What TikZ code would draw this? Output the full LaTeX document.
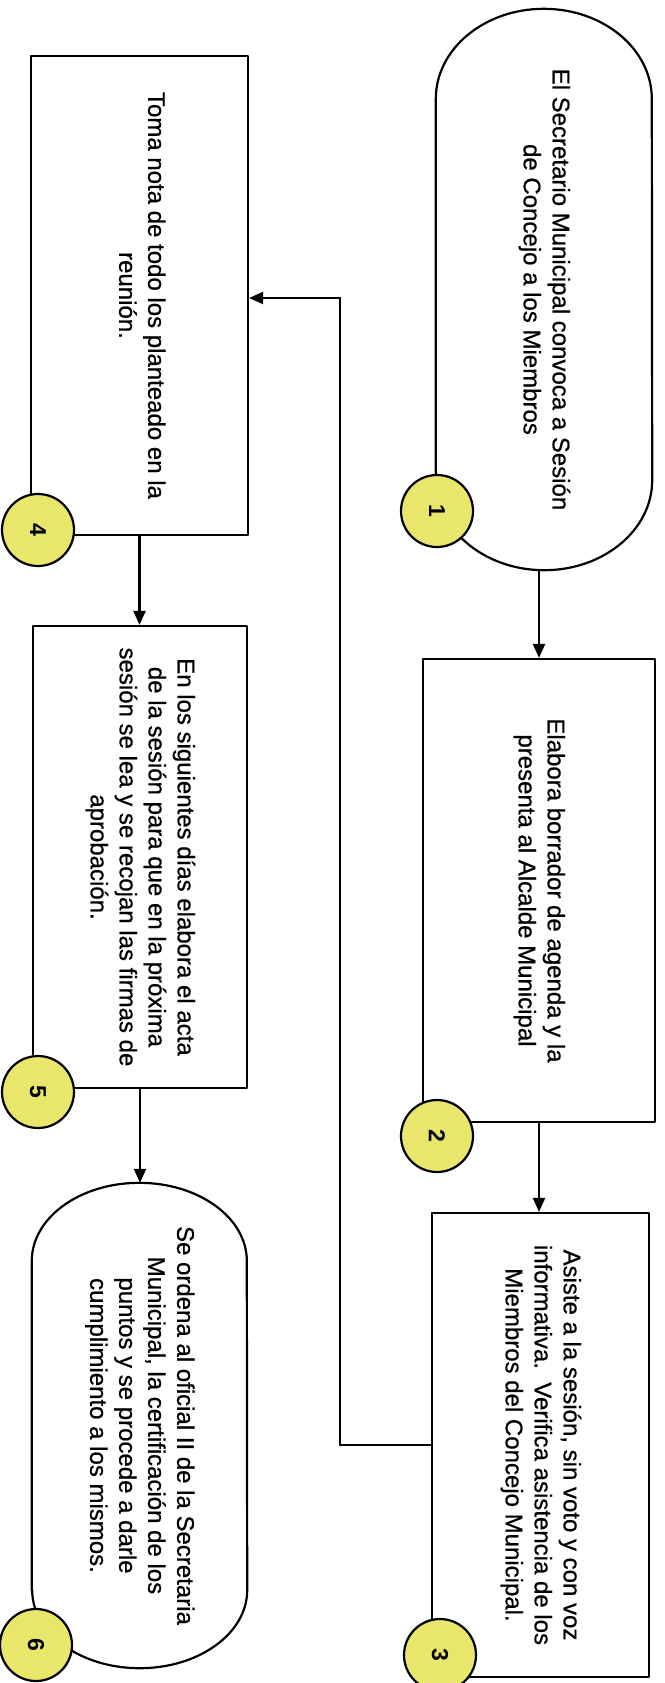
\documentclass[tikz,border=0pt]{standalone}
\usepackage{fontspec}
\setmainfont{Liberation Sans}
\newfontfamily\stepfont[FakeBold=0.7]{Liberation Sans}
\usepackage{graphicx}
\usetikzlibrary{arrows.meta,calc}

\definecolor{badgeyellow}{RGB}{233,230,108}

% outline of a terminal step: straight sides closed by elliptic ends
\newcommand\stadiumoutline[3]{%
  \draw[outline] ($(#1.south west)+(0,#3)$) -- ($(#1.north west)+(0,-#3)$)
    arc[start angle=180,end angle=0,x radius=#2,y radius=#3pt]
    -- ($(#1.south east)+(0,#3)$)
    arc[start angle=0,end angle=-180,x radius=#2,y radius=#3pt] -- cycle;}
% step text, set sideways
\newcommand\steptext[1]{\rotatebox{-90}{\begin{tabular}{@{}c@{}}#1\end{tabular}}}

\tikzset{
  outline/.style={line width=2.2pt, line join=round},
  stepbox/.style={draw, outline, rectangle, inner sep=0pt,
    font=\stepfont\fontsize{24}{29}\selectfont},
  stadiumbox/.style={rectangle, inner sep=0pt,
    font=\stepfont\fontsize{24}{29}\selectfont},
  badge/.style={circle, draw, line width=2.2pt, fill=badgeyellow,
    minimum size=72pt, inner sep=0pt, font=\fontsize{23}{23}\selectfont\bfseries},
  flow/.style={line width=2.2pt, -{Triangle[length=14pt,width=12pt]}}
}

\begin{document}
\begin{tikzpicture}[x=1pt,y=1pt]
\useasboundingbox (0,0) rectangle (664,-1683);

% right column
\node[stadiumbox, minimum width=216pt, minimum height=561pt] (s1) at (544,-289.5)
  {\steptext{El Secretario Municipal convoca a Sesión\\de Concejo a los Miembros}};
\stadiumoutline{s1}{108pt}{90}
\node[stepbox, minimum width=232pt, minimum height=463pt] (b2) at (539,-890.5)
  {\steptext{Elabora borrador de agenda y la\\presenta al Alcalde Municipal}};
\node[stepbox, minimum width=217pt, minimum height=464pt] (b3) at (540.5,-1445)
  {\steptext{Asiste a la sesión, sin voto y con voz\\informativa.\ \ Verifica asistencia de los\\Miembros del Concejo Municipal.}};

% left column
\node[stepbox, minimum width=217pt, minimum height=479pt] (b4) at (139.5,-295.5)
  {\steptext{Toma nota de todo los planteado en la\\reunión.}};
\node[stepbox, minimum width=214pt, minimum height=462pt] (b5) at (140,-857)
  {\steptext{En los siguientes días elabora el acta\\de la sesión para que en la próxima\\sesión se lea y se recojan las firmas de\\aprobación.}};
\node[stadiumbox, minimum width=215pt, minimum height=485pt] (s6) at (139.5,-1425.5)
  {\steptext{Se ordena al oficial II de la Secretaria\\Municipal, la certificación de los\\puntos y se procede a darle\\cumplimiento a los mismos.}};
\stadiumoutline{s6}{107.5pt}{78}

% connectors
\coordinate (loop) at (340,-298);
\draw[flow] (s1.south -| b2.north) -- (b2.north);
\draw[flow] (b2.south) -- (b2.south |- b3.north);
\draw[flow] (b3.west) -| (loop) -- (loop -| b4.east);
\draw[flow] (b4.south) -- (b4.south |- b5.north);
\draw[flow] (b5.south) -- (b5.south |- s6.north);

% step numbers
\node[badge] (c1) at (437,-511)  {\rotatebox{-90}{1}};
\node[badge] (c2) at (437,-1136) {\rotatebox{-90}{2}};
\node[badge] (c3) at (440,-1655) {\rotatebox{-90}{3}};
\node[badge] (c4) at (38,-530)   {\rotatebox{-90}{4}};
\node[badge] (c5) at (38,-1092)  {\rotatebox{-90}{5}};
\node[badge] (c6) at (36,-1645)  {\rotatebox{-90}{6}};
\end{tikzpicture}
\end{document}
